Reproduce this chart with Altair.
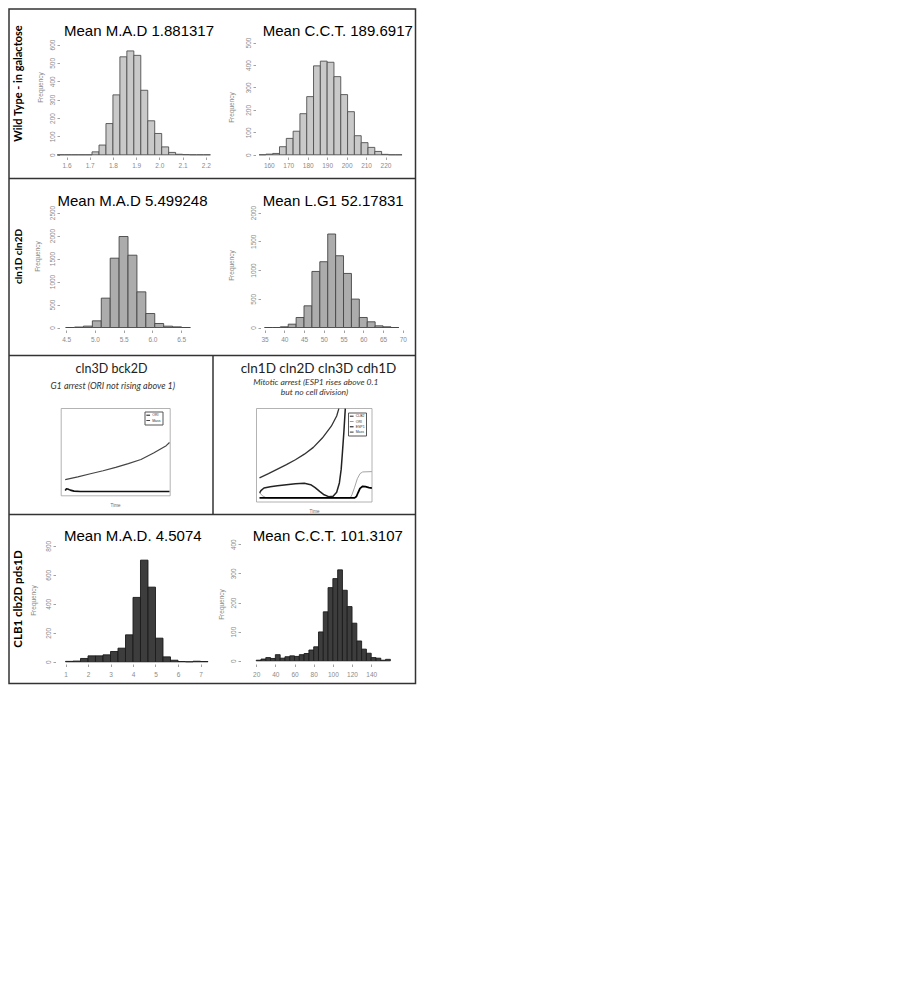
import altair as alt
import pandas as pd

# ---------------- data ----------------
# Row 1 : Wild Type - in galactose
wt_mad_bins = [1.56, 1.59, 1.62, 1.65, 1.68, 1.71, 1.74, 1.77, 1.80, 1.83, 1.86, 1.89,
               1.92, 1.95, 1.98, 2.01, 2.04, 2.07, 2.10, 2.13, 2.16, 2.19]
wt_mad_counts = [0, 0, 0, 0, 0, 16, 53, 170, 326, 533, 565, 541, 351, 185, 116, 43, 13, 3, 1, 0, 0, 0]
wt_mad_binwidth = 0.03
wt_mad_xticks = [1.6, 1.7, 1.8, 1.9, 2.0, 2.1, 2.2]
wt_mad_yticks = [0, 100, 200, 300, 400, 500, 600]

wt_cct_bins = [155, 158.5, 162, 165.5, 169, 172.5, 176, 179.5, 183, 186.5, 190, 193.5, 197,
               200.5, 204, 207.5, 211, 214.5, 218, 221.5, 225]
wt_cct_counts = [0, 3, 6, 36, 73, 105, 183, 259, 396, 417, 412, 348, 268, 192, 85, 54, 33, 15, 2, 0, 0]
wt_cct_binwidth = 3.5
wt_cct_xticks = [160, 170, 180, 190, 200, 210, 220]
wt_cct_yticks = [0, 100, 200, 300, 400, 500]

# Row 2 : cln1D cln2D
c12_mad_bins = [4.49, 4.645, 4.80, 4.955, 5.11, 5.265, 5.42, 5.575, 5.73, 5.885, 6.04, 6.195, 6.35, 6.505]
c12_mad_counts = [0, 10, 30, 145, 638, 1507, 1978, 1572, 775, 304, 87, 29, 14, 0]
c12_mad_binwidth = 0.155
c12_mad_xticks = [4.5, 5.0, 5.5, 6.0, 6.5]
c12_mad_yticks = [0, 500, 1000, 1500, 2000, 2500]

c12_lg1_bins = [35, 37, 39, 41, 43, 45, 47, 49, 51, 53, 55, 57, 59, 61, 63, 65, 67]
c12_lg1_counts = [0, 0, 12, 58, 174, 377, 975, 1144, 1626, 1248, 940, 494, 174, 99, 29, 12, 0]
c12_lg1_binwidth = 2
c12_lg1_xticks = [35, 40, 45, 50, 55, 60, 65, 70]
c12_lg1_yticks = [0, 500, 1000, 1500, 2000]

# Row 3 : time courses
g1_names = ["ORI", "Mass"]
g1_time = {"ORI": [0, 5, 10, 20, 35, 60, 413],
           "Mass": [0, 50, 100, 150, 200, 250, 300, 350, 400, 413]}
g1_value = {"ORI": [0.05, 0.14, 0.13, 0.07, 0.02, 0.0, 0.0],
            "Mass": [0.6, 0.74, 0.9, 1.05, 1.22, 1.41, 1.62, 1.95, 2.32, 2.48]}
g1_xticks = [0, 100, 200, 300, 400]
g1_yticks = [0, 1, 2, 3, 4]

mit_names = ["CLB2", "ORI", "ESP1", "Mass"]
mit_time = {"CLB2": [0, 8, 25, 60, 100, 150, 200, 250, 285, 310, 335, 360, 385, 410, 430, 445, 455, 462, 470, 478],
            "ORI": [0, 15, 35, 60, 505, 515, 530, 545, 560, 575, 626],
            "ESP1": [0, 530, 540, 550, 560, 575, 590, 610, 626],
            "Mass": [0, 50, 100, 150, 200, 250, 300, 350, 400, 430, 442]}
mit_value = {"CLB2": [0.3, 0.45, 0.6, 0.68, 0.73, 0.79, 0.85, 0.88, 0.8, 0.62, 0.4, 0.2, 0.09, 0.12, 0.35, 0.9, 1.7, 2.7, 3.9, 5.29],
             "ORI": [0.35, 0.15, 0.04, 0.01, 0.01, 0.2, 0.65, 1.15, 1.45, 1.55, 1.57],
             "ESP1": [0.02, 0.02, 0.1, 0.35, 0.58, 0.7, 0.68, 0.63, 0.6],
             "Mass": [1.2, 1.45, 1.72, 1.98, 2.27, 2.6, 3.0, 3.55, 4.25, 4.85, 5.29]}
mit_xticks = [0, 100, 200, 300, 400, 500, 600]
mit_yticks = [0, 1, 2, 3, 4, 5]

# Row 4 : CLB1 clb2D pds1D
clb_mad_bins = [1.0, 1.3333, 1.6667, 2.0, 2.3333, 2.6667, 3.0, 3.3333, 3.6667, 4.0, 4.3333,
                4.6667, 5.0, 5.3333, 5.6667, 6.0, 6.3333, 6.6667, 7.0]
clb_mad_counts = [3, 5, 23, 41, 41, 48, 71, 94, 186, 444, 701, 515, 163, 34, 11, 2, 0, 4, 2]
clb_mad_binwidth = 0.3333
clb_mad_xticks = [1, 2, 3, 4, 5, 6, 7]
clb_mad_yticks = [0, 200, 400, 600, 800]

clb_cct_bins = [20, 25, 30, 35, 40, 45, 50, 55, 60, 65, 70, 75, 80, 85, 90, 95, 100, 105, 110,
                115, 120, 125, 130, 135, 140, 145, 150, 155]
clb_cct_counts = [2, 6, 11, 8, 21, 9, 14, 17, 15, 21, 25, 37, 48, 99, 168, 251, 282, 312, 242,
                  186, 129, 68, 40, 26, 11, 9, 2, 5]
clb_cct_binwidth = 5
clb_cct_xticks = [20, 40, 60, 80, 100, 120, 140]
clb_cct_yticks = [0, 100, 200, 300, 400]

titles = ["Mean M.A.D 1.881317", "Mean C.C.T. 189.6917", "Mean M.A.D 5.499248",
          "Mean L.G1 52.17831", "Mean M.A.D. 4.5074", "Mean C.C.T. 101.3107"]
row_labels = ["Wild Type - in galactose", "cln1D cln2D", "CLB1 clb2D pds1D"]
line_titles = ["cln3D bck2D", "cln1D cln2D cln3D cdh1D"]
line_subtitles = ["G1 arrest (ORI not rising above 1)", "Mitotic arrest (ESP1 rises above 0.1",
                  "but no cell division)"]

# ---------------- layout helpers ----------------
W, H = 409, 677
FONT = "Liberation Sans"
SERIF_UI = "Lato"
AX = "#8a8a8a"


def X(x):
    return x - 3.5


def Y(y):
    return y - 0.5


dummy = pd.DataFrame({"k": [0]})


def hist(bins, counts, bw, xticks, yticks, xpx, ypx, xaxis_y, yaxis_x, xlab_pad,
         fill, stroke, xfmt):
    df = pd.DataFrame({"lo": bins, "n": counts})
    df["hi"] = df["lo"] + bw
    xs = alt.Scale(domain=[xticks[0], xticks[-1]], range=[X(xpx[0]), X(xpx[1])],
                   nice=False, zero=False)
    ys = alt.Scale(domain=[yticks[0], yticks[-1]], range=[Y(ypx[0]), Y(ypx[1])],
                   nice=False, zero=False)
    common = dict(grid=False, domain=False, tickColor=AX, labelColor=AX, labelFont=FONT,
                  labelFontSize=6.5, tickSize=2.5, tickWidth=0.8, labelFlush=False,
                  labelOverlap=False, title=None)
    xa = alt.Axis(orient="bottom", values=xticks, format=xfmt, offset=Y(xaxis_y) - H,
                  labelPadding=xlab_pad, **common)
    ya = alt.Axis(orient="left", values=yticks, format="d", offset=-X(yaxis_x),
                  labelPadding=1.5, labelAngle=270, labelAlign="center",
                  labelBaseline="bottom", **common)
    return alt.Chart(df).mark_rect(fill=fill, stroke=stroke, strokeWidth=0.9).encode(
        x=alt.X("lo:Q", scale=xs, axis=xa),
        x2="hi:Q",
        y=alt.Y("n:Q", scale=ys, axis=ya),
        y2=alt.datum(0),
    )


def timecourse(names, tdict, vdict, colors, widths, xticks, yticks, xpx, ypx,
               frame_left, frame_bottom, legx, legy):
    xs = alt.Scale(domain=[xticks[0], xticks[-1]], range=[X(xpx[0]), X(xpx[1])],
                   nice=False, zero=False)
    ys = alt.Scale(domain=[yticks[0], yticks[-1]], range=[Y(ypx[0]), Y(ypx[1])],
                   nice=False, zero=False)
    common = dict(grid=False, domain=False, tickColor="#777", labelColor="#777",
                  labelFont=FONT, labelFontSize=4.5, tickSize=2.5, tickWidth=0.6,
                  labelFlush=False, labelOverlap=False, title=None)
    xa = alt.Axis(orient="bottom", values=xticks, format="d",
                  offset=Y(frame_bottom) - H, labelPadding=1, **common)
    ya = alt.Axis(orient="left", values=yticks, format="d", offset=-X(frame_left),
                  labelPadding=1.5, **common)
    cscale = alt.Scale(domain=names, range=colors)
    leg = alt.Legend(orient="none", legendX=X(legx), legendY=Y(legy), title=None,
                     symbolType="stroke", symbolSize=14, symbolStrokeWidth=1,
                     labelFontSize=3.5, labelFont=FONT, labelColor="#333",
                     labelOffset=1.5, rowPadding=0.3, padding=1.2,
                     strokeColor="#555", fillColor="white")
    layers = []
    for i, (nm, w) in enumerate(zip(names, widths)):
        df = pd.DataFrame({"t": tdict[nm], "v": vdict[nm], "series": nm})
        layers.append(
            alt.Chart(df).mark_line(strokeWidth=w, strokeJoin="round").encode(
                x=alt.X("t:Q", scale=xs, axis=xa if i == 0 else None),
                y=alt.Y("v:Q", scale=ys, axis=ya if i == 0 else None),
                color=alt.Color("series:N", scale=cscale, legend=leg),
            )
        )
    return alt.layer(*layers)


def txt(s, x, y, size, font=FONT, weight="normal", style="normal", angle=0,
        color="black", baseline="alphabetic"):
    return alt.Chart(dummy).mark_text(
        fontSize=size, font=font, fontWeight=weight, fontStyle=style, angle=angle,
        color=color, align="center", baseline=baseline,
    ).encode(x=alt.value(X(x)), y=alt.value(Y(y)), text=alt.value(s))


def hrule(y, x0, x1):
    return alt.Chart(dummy).mark_rule(color="#333", strokeWidth=1.5).encode(
        x=alt.value(X(x0)), x2=alt.value(X(x1)), y=alt.value(Y(y)))


def vrule(x, y0, y1):
    return alt.Chart(dummy).mark_rule(color="#333", strokeWidth=1.5).encode(
        x=alt.value(X(x)), y=alt.value(Y(y0)), y2=alt.value(Y(y1)))


def box(x0, y0, x1, y1, color, width):
    return alt.Chart(dummy).mark_rect(fillOpacity=0, stroke=color, strokeWidth=width).encode(
        x=alt.value(X(x0)), x2=alt.value(X(x1)), y=alt.value(Y(y0)), y2=alt.value(Y(y1)))


ROW1_FILL, ROW1_STROKE = "#c9c9c9", "#505050"
ROW2_FILL, ROW2_STROKE = "#acacac", "#454545"
ROW4_FILL, ROW4_STROKE = "#3d3d3d", "#1c1c1c"

layers = [
    box(4.5, 1.5, 411, 676, "#333", 1.5),
    hrule(171, 4.5, 411),
    hrule(348, 4.5, 411),
    hrule(507, 4.5, 411),
    vrule(208.5, 348, 507),
    # row 1
    hist(wt_mad_bins, wt_mad_counts, wt_mad_binwidth, wt_mad_xticks, wt_mad_yticks,
         (62, 201.3), (147.3, 37), 149.5, 55, 2.5, ROW1_FILL, ROW1_STROKE, ".1f"),
    hist(wt_cct_bins, wt_cct_counts, wt_cct_binwidth, wt_cct_xticks, wt_cct_yticks,
         (264.3, 381), (147.3, 35), 149.5, 251, 3, ROW1_FILL, ROW1_STROKE, "d"),
    # row 2
    hist(c12_mad_bins, c12_mad_counts, c12_mad_binwidth, c12_mad_xticks, c12_mad_yticks,
         (61.7, 176.7), (320, 205), 322.5, 55, 4, ROW2_FILL, ROW2_STROKE, ".1f"),
    hist(c12_lg1_bins, c12_lg1_counts, c12_lg1_binwidth, c12_lg1_xticks, c12_lg1_yticks,
         (260, 398.3), (320, 205), 322.5, 256, 4, ROW2_FILL, ROW2_STROKE, "d"),
    # row 4
    hist(clb_mad_bins, clb_mad_counts, clb_mad_binwidth, clb_mad_xticks, clb_mad_yticks,
         (61, 196), (654.3, 538.3), 656.5, 51, 4.5, ROW4_FILL, ROW4_STROKE, "d"),
    hist(clb_cct_bins, clb_cct_counts, clb_cct_binwidth, clb_cct_xticks, clb_cct_yticks,
         (251.7, 366.7), (653.3, 536.7), 656.5, 236, 4.5, ROW4_FILL, ROW4_STROKE, "d"),
    # row 3 frames + curves
    box(56.7, 401, 165.7, 488.3, "#a0a0a0", 0.8),
    box(252, 401, 367.5, 494.5, "#a0a0a0", 0.8),
    timecourse(g1_names, g1_time, g1_value, ["#111111", "#444444"], [1.6, 1.2],
               g1_xticks, g1_yticks, (60.7, 161.7), (484, 405), 56.7, 488.3, 140, 404),
    timecourse(mit_names, mit_time, mit_value, ["#222222", "#9a9a9a", "#000000", "#333333"],
               [1.5, 0.9, 1.8, 1.3], mit_xticks, mit_yticks, (255, 362.7), (490.7, 406),
               252, 494.5, 343.5, 405),
    txt("Time", 111, 499, 4.5, color="#666"),
    txt("Time", 310, 505, 4.5, color="#666"),
    # titles
    txt(titles[0], 134.5, 28, 15),
    txt(titles[1], 333.3, 28, 15),
    txt(titles[2], 128, 198.3, 15),
    txt(titles[3], 328.7, 198.3, 15),
    txt(titles[4], 128.3, 533, 15),
    txt(titles[5], 323.3, 533, 15),
    # row labels
    txt(row_labels[0], 14.5, 76, 11, font=SERIF_UI, weight="bold", angle=270, baseline="middle"),
    txt(row_labels[1], 14.5, 249, 10, font=SERIF_UI, weight="bold", angle=270, baseline="middle"),
    txt(row_labels[2], 14.5, 591.5, 11.5, font=SERIF_UI, weight="bold", angle=270, baseline="middle"),
    # Frequency labels
    txt("Frequency", 36, 80, 6.5, color=AX, angle=270, baseline="middle"),
    txt("Frequency", 227, 100, 6.5, color=AX, angle=270, baseline="middle"),
    txt("Frequency", 33.5, 249, 6.5, color=AX, angle=270, baseline="middle"),
    txt("Frequency", 227, 258, 6.5, color=AX, angle=270, baseline="middle"),
    txt("Frequency", 29.5, 593, 6.5, color=AX, angle=270, baseline="middle"),
    txt("Frequency", 217, 597, 6.5, color=AX, angle=270, baseline="middle"),
    # row 3 headings
    txt(line_titles[0], 107, 365.7, 12.5, font=SERIF_UI, color="#222"),
    txt(line_titles[1], 314, 365.7, 13.5, font=SERIF_UI, color="#222"),
    txt(line_subtitles[0], 108.3, 381, 9, font=SERIF_UI, style="italic", color="#333"),
    txt(line_subtitles[1], 311.3, 377.8, 8.5, font=SERIF_UI, style="italic", color="#333"),
    txt(line_subtitles[2], 310, 387.8, 8.5, font=SERIF_UI, style="italic", color="#333"),
]

chart = alt.layer(*layers).resolve_scale(
    x="independent", y="independent", color="independent"
).properties(
    width=W, height=H, padding=0, autosize=alt.AutoSizeParams(type="none")
).configure_view(strokeWidth=0)

chart.save("out.html", embed_options={"renderer": "svg", "actions": False})
